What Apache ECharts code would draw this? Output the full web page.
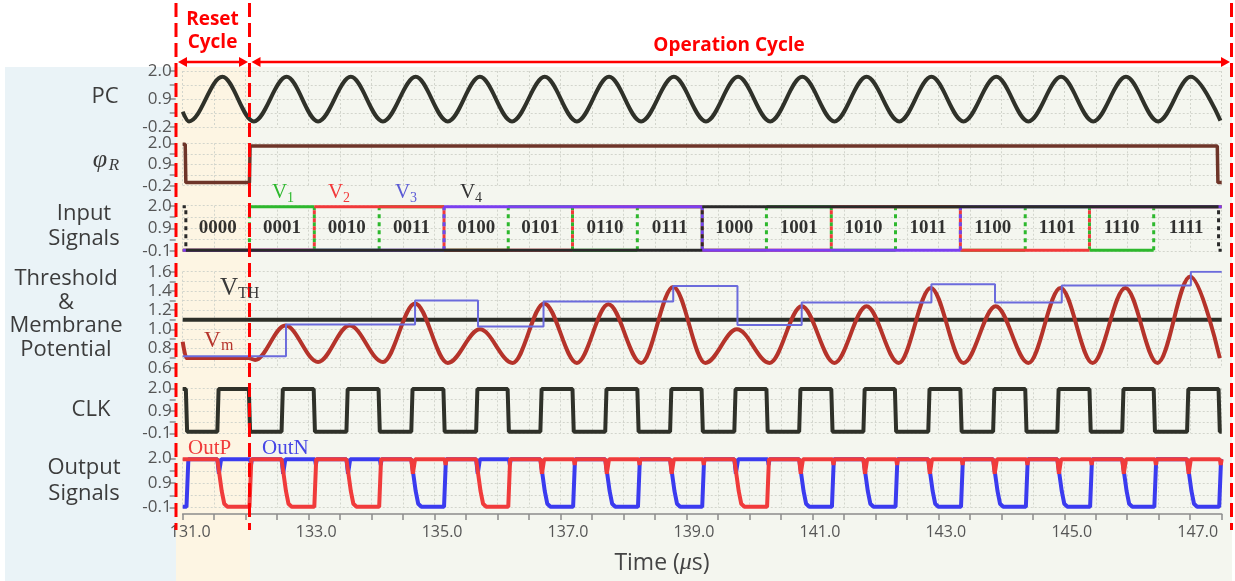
<!DOCTYPE html>
<html><head><meta charset="utf-8">
<script src="https://cdn.jsdelivr.net/npm/echarts@6/dist/echarts.min.js"></script>
<style>html,body{margin:0;padding:0;background:#fff}#c{width:1235px;height:581px}</style>
</head><body><div id="c"></div>
<script>
// ================= DATA =================
const timeMin = 131.0, timeMax = 147.5;
const xLabelVals = [131, 133, 135, 137, 139, 141, 143, 145, 147];

// PC waveform: start, alternating troughs / peaks, end (time in us, value in V)
const pcT = [131.00,131.10,131.63,132.13,132.65,133.15,133.67,134.18,134.70,135.21,135.72,136.23,136.75,137.26,137.77,138.28,138.80,139.31,139.82,140.33,140.84,141.35,141.86,142.38,142.89,143.40,143.92,144.43,144.95,145.46,145.98,146.49,147.01,147.48];
const pcV = [0.40,0.02,1.77,0.02,1.77,0.02,1.77,0.02,1.77,0.02,1.77,0.02,1.77,0.02,1.77,0.02,1.77,0.02,1.77,0.02,1.77,0.02,1.77,0.02,1.77,0.02,1.77,0.02,1.77,0.02,1.77,0.02,1.77,0.05];

// phi_R reset signal
const phiT = [131.00,131.04,131.05,132.06,132.07,147.43,147.44,147.50];
const phiV = [1.95,1.95,-0.04,-0.04,1.86,1.86,-0.04,-0.04];

// Input signals: state boundaries and codes (V4 V3 V2 V1)
const inputBounds = [131.00,131.05,132.06,133.09,134.12,135.15,136.17,137.19,138.22,139.25,140.27,141.30,142.32,143.35,144.38,145.40,146.42,147.45,147.50];
const inputStates = ['1000','0000','0001','0010','0011','0100','0101','0110','0111','1000','1001','1010','1011','1100','1101','1110','1111','0111'];
const inputHigh = 1.95, inputLow = -0.06;

// Threshold & membrane potential
const vthLevel = 1.1;
const vmT = [131.00,131.06,132.05,132.15,132.63,133.15,133.65,134.18,134.69,135.21,135.72,136.24,136.74,137.26,137.76,138.28,138.79,139.30,139.80,140.32,140.83,141.35,141.86,142.37,142.88,143.40,143.91,144.43,144.94,145.45,145.97,146.48,147.00,147.47];
const vmV = [0.87,0.70,0.70,0.68,1.04,0.66,1.04,0.66,1.27,0.65,1.00,0.65,1.27,0.65,1.26,0.65,1.44,0.65,1.00,0.65,1.24,0.65,1.24,0.65,1.43,0.65,1.24,0.65,1.43,0.65,1.43,0.65,1.55,0.70];
const stepT = [131.00,132.64,134.69,135.69,136.73,138.79,139.81,140.83,142.89,143.90,144.96,147.01,147.50];
const stepV = [0.72,1.05,1.30,1.03,1.29,1.45,1.045,1.28,1.47,1.28,1.455,1.60,1.60];

// Clock edges
const clkRise = [131.55,132.57,133.60,134.63,135.66,136.68,137.71,138.74,139.76,140.79,141.81,142.84,143.87,144.89,145.92,146.95];
const clkFall = [131.05,132.05,133.08,134.11,135.14,136.16,137.19,138.22,139.24,140.27,141.30,142.31,143.35,144.38,145.40,146.42,147.45];
const clkHigh = 1.97, clkLow = -0.03;

// Output: which output goes low in each clock cycle (P = OutP, N = OutN)
const outLoser = ['P','P','P','N','P','N','N','N','P','N','N','N','N','N','N','N'];
const outHigh = 1.97, outLow = -0.07;

// Axis tick values
const ticks22 = [-0.2, 0.35, 0.9, 1.45, 2.0];
const labels22 = [-0.2, 0.9, 2.0];
const ticks21 = [-0.1, 0.425, 0.95, 1.475, 2.0];
const labels21 = [-0.1, 0.95, 2.0];
const labels21Text = ['-0.1', '0.9', '2.0'];
const ticksTh = [0.6,0.7,0.8,0.9,1.0,1.1,1.2,1.3,1.4,1.5,1.6];
const labelsTh = [0.6,0.8,1.0,1.2,1.4,1.6];

// ================= BUILDERS =================
const zip = (a, b) => a.map((t, i) => [t, b[i]]);

function buildInput(k) { // k: 0..3 => V1..V4
  const ci = 3 - k, hor = [], ver = [];
  let prev = null;
  for (let s = 0; s < inputStates.length; s++) {
    const b = inputStates[s][ci] === '1';
    const t0 = inputBounds[s], t1 = inputBounds[s + 1];
    const lv = b ? inputHigh : inputLow;
    if (prev !== null && prev !== b) ver.push([t0, inputLow], [t0, inputHigh], null);
    hor.push([t0, lv], [t1, lv], null);
    prev = b;
  }
  return { hor, ver };
}
function buildClk() {
  const ev = [];
  clkFall.forEach(t => ev.push([t, false]));
  clkRise.forEach(t => ev.push([t, true]));
  ev.sort((a, b) => a[0] - b[0]);
  const pts = [[timeMin, clkHigh]];
  let lv = clkHigh;
  ev.forEach(([t, up]) => { const nl = up ? clkHigh : clkLow; pts.push([t, lv], [t + 0.02, nl]); lv = nl; });
  pts.push([timeMax, lv]);
  return pts;
}
function buildOut(which) {
  const pts = [];
  if (which === 'P') pts.push([timeMin, outHigh]);
  else pts.push([timeMin, outLow], [131.06, outLow], [131.09, outHigh]);
  for (let i = 0; i < clkRise.length; i++) {
    const r = clkRise[i], f = clkFall[i + 1];
    if (outLoser[i] === which) {
      pts.push([r, outHigh], [r + 0.07, 0.6], [r + 0.11, 0.06], [r + 0.16, outLow], [f + 0.01, outLow], [f + 0.04, outHigh]);
    } else {
      pts.push([r, outHigh], [r + 0.025, 1.35], [r + 0.06, outHigh], [f + 0.02, outHigh], [f + 0.035, 1.72], [f + 0.05, outHigh]);
    }
  }
  return pts;
}
const inputs = [0, 1, 2, 3].map(buildInput);
const bitLabels = [];
for (let s = 1; s < inputStates.length - 1; s++) {
  bitLabels.push([(inputBounds[s] + inputBounds[s + 1]) / 2, 0.95, inputStates[s]]);
}

// ================= OPTION =================
const gridDefs = [[71, 56], [143.3, 42.4], [205.7, 45.3], [271.7, 96], [388.3, 45], [458.5, 49]];
const grids = gridDefs.map(g => ({ left: 182.7, right: 13.3, top: g[0], height: g[1] }));
const FONT = '"Open Sans", "Noto Sans", sans-serif';
const SERIF = '"Liberation Serif", "DejaVu Serif", serif';

const xAxes = grids.map((g, i) => {
  const last = i === grids.length - 1;
  return {
    type: 'value', gridIndex: i, min: timeMin, max: timeMax, interval: 0.5,
    offset: last ? 6.5 : 0,
    axisLine: { show: last, onZero: false, lineStyle: { color: '#8c8c8c', width: 1.5 } },
    axisTick: { show: last, length: 6, lineStyle: { color: '#8c8c8c', width: 1.5 } },
    axisLabel: last ? { show: true, customValues: xLabelVals, formatter: v => v.toFixed(1), color: '#555', fontSize: 16, fontFamily: FONT, margin: 10, padding: [0, 0, 0, 15] } : { show: false },
    splitLine: { show: true, lineStyle: { color: '#d2d5cc', type: [2, 2], width: 1 } }
  };
});
function yAx(i, min, max, tks, lbs, fmt) {
  return {
    type: 'value', gridIndex: i, min, max, offset: 7,
    axisLine: { show: false },
    axisTick: { show: true, length: 6, customValues: tks, lineStyle: { color: '#8c8c8c', width: 1.5 } },
    axisLabel: { show: true, customValues: lbs, formatter: fmt, color: '#555', fontSize: 17, fontFamily: FONT, margin: 4 },
    splitLine: { show: true, lineStyle: { color: '#d2d5cc', type: [2, 2], width: 1 } }
  };
}
const f1 = v => v.toFixed(1);
const f21 = v => { const k = labels21.indexOf(v); return k >= 0 ? labels21Text[k] : v.toFixed(1); };
const yAxes = [
  yAx(0, -0.2, 2.0, ticks22, labels22, f1),
  yAx(1, -0.2, 2.0, ticks22, labels22, f1),
  yAx(2, -0.1, 2.0, ticks21, labels21, f21),
  yAx(3, 0.6, 1.6, ticksTh, labelsTh, f1),
  yAx(4, -0.1, 2.0, ticks21, labels21, f21),
  yAx(5, -0.1, 2.0, ticks21, labels21, f21)
];

function line(i, data, color, width, extra) {
  return Object.assign({
    type: 'line', xAxisIndex: i, yAxisIndex: i, data, showSymbol: false, symbol: 'none',
    lineStyle: { color, width }, connectNulls: false, silent: true, animation: false
  }, extra || {});
}
const inColors = ['#2db82d', '#f2393a', '#7b3ff0', '#2a2a2a'];
const dashOff = [0, 4, 0, 4];
const series = [];
series.push(line(0, zip(pcT, pcV), '#2f3129', 4, { smooth: 0.35, smoothMonotone: 'x' }));
series.push(line(1, zip(phiT, phiV), '#6e3529', 3.5));
inputs.forEach((s, k) => {
  series.push(line(2, s.hor, inColors[k], 3));
  series.push(line(2, s.ver, inColors[k], 3, { lineStyle: { color: inColors[k], width: 3, type: [4, 4], dashOffset: dashOff[k] } }));
});
series.push({
  type: 'scatter', xAxisIndex: 2, yAxisIndex: 2, data: bitLabels, symbolSize: 1, itemStyle: { color: 'rgba(0,0,0,0)' }, silent: true,
  label: { show: true, position: 'inside', formatter: p => p.data[2], color: '#000', fontFamily: SERIF, fontWeight: 'bold', fontSize: 19 }
});
series.push(line(3, [[timeMin, vthLevel], [timeMax, vthLevel]], '#2d2f28', 4));
series.push(line(3, zip(vmT, vmV), '#b5332a', 4, { smooth: 0.35, smoothMonotone: 'x' }));
series.push(line(3, zip(stepT, stepV), '#6b6bdc', 2, { step: 'end' }));
series.push(line(4, buildClk(), '#2f3129', 4));
series.push(line(5, buildOut('N'), '#3b3bef', 4));
series.push(line(5, buildOut('P'), '#f03b3b', 4));

// ---------------- graphics ----------------
const RED = '#ff0000';
const G = [];
G.push({ type: 'rect', shape: { x: 5, y: 67, width: 171, height: 514 }, style: { fill: '#eaf3f7' }, z: -10, silent: true });
G.push({ type: 'rect', shape: { x: 176, y: 67, width: 74, height: 514 }, style: { fill: '#fdf5e3' }, z: -10, silent: true });
G.push({ type: 'rect', shape: { x: 250, y: 67, width: 982, height: 514 }, style: { fill: '#f4f6ef' }, z: -10, silent: true });
[176, 249.5, 1231.5].forEach(x => G.push({ type: 'line', shape: { x1: x, y1: 3, x2: x, y2: 530 }, style: { stroke: RED, lineWidth: 3, lineDash: [14, 6] }, z: 50, silent: true }));
function arrow(x1, x2, y) {
  G.push({ type: 'line', shape: { x1: x1 + 4, y1: y, x2: x2 - 4, y2: y }, style: { stroke: RED, lineWidth: 2.5 }, z: 50, silent: true });
  G.push({ type: 'polygon', shape: { points: [[x1, y], [x1 + 9, y - 5], [x1 + 9, y + 5]] }, style: { fill: RED }, z: 50, silent: true });
  G.push({ type: 'polygon', shape: { points: [[x2, y], [x2 - 9, y - 5], [x2 - 9, y + 5]] }, style: { fill: RED }, z: 50, silent: true });
}
arrow(178, 248, 62);
arrow(251.5, 1230, 62);
function txt(text, x, y, font, fill, align, extra) {
  G.push(Object.assign({ type: 'text', x, y, z: 60, silent: true, style: Object.assign({ text, font, fill, align: align || 'center', verticalAlign: 'middle' }, extra || {}) }));
}
txt('Reset', 212.5, 20, 'bold 19px ' + FONT, RED);
txt('Cycle', 212.5, 43, 'bold 19px ' + FONT, RED);
txt('Operation Cycle', 729, 46, 'bold 19px ' + FONT, RED);

const TC = '#3c3c3c';
txt('PC', 105, 97, '22px ' + FONT, TC);
txt('\u03c6', 100, 160, 'italic 26px ' + SERIF, TC);
txt('R', 114, 166, 'italic 17px ' + SERIF, TC);
txt('Input\nSignals', 84, 226, '22px ' + FONT, TC, 'center', { lineHeight: 25 });
txt('Threshold\n&\nMembrane\nPotential', 66, 314, '22px ' + FONT, TC, 'center', { lineHeight: 23.5 });
txt('CLK', 91, 410, '22px ' + FONT, TC);
txt('Output\nSignals', 84, 481, '22px ' + FONT, TC, 'center', { lineHeight: 26 });

// signal annotations
const vLab = [[272, inColors[0], '1'], [328, inColors[1], '2'], [395, '#5b5bd6', '3'], [460, '#333', '4']];
vLab.forEach(v => { txt('V', v[0], 192, '21px ' + SERIF, v[1], 'left'); txt(v[2], v[0] + 15, 198, '14px ' + SERIF, v[1], 'left'); });
txt('V', 220, 288, '25px ' + SERIF, '#3a3a3a', 'left');
txt('TH', 238, 294, '16px ' + SERIF, '#3a3a3a', 'left');
txt('V', 204, 341, '23px ' + SERIF, '#b5332a', 'left');
txt('m', 221, 346, '16px ' + SERIF, '#b5332a', 'left');
txt('OutP', 188, 448, '21px ' + SERIF, '#f03b3b', 'left');
txt('OutN', 262, 448, '21px ' + SERIF, '#4646e6', 'left');
G.push({ type: 'text', x: 662, y: 563, z: 60, silent: true, style: {
  text: '{a|Time (}{b|\u03bc}{a|s)}', align: 'center', verticalAlign: 'middle',
  rich: { a: { fontSize: 23, fontFamily: FONT, fill: '#444' }, b: { fontSize: 24, fontFamily: SERIF, fontStyle: 'italic', fill: '#444' } }
} });

const chart = echarts.init(document.getElementById('c'), null, { renderer: 'canvas', width: 1235, height: 581 });
chart.setOption({
  backgroundColor: '#ffffff', animation: false,
  grid: grids, xAxis: xAxes, yAxis: yAxes, series,
  graphic: { elements: G }
});
</script></body></html>
